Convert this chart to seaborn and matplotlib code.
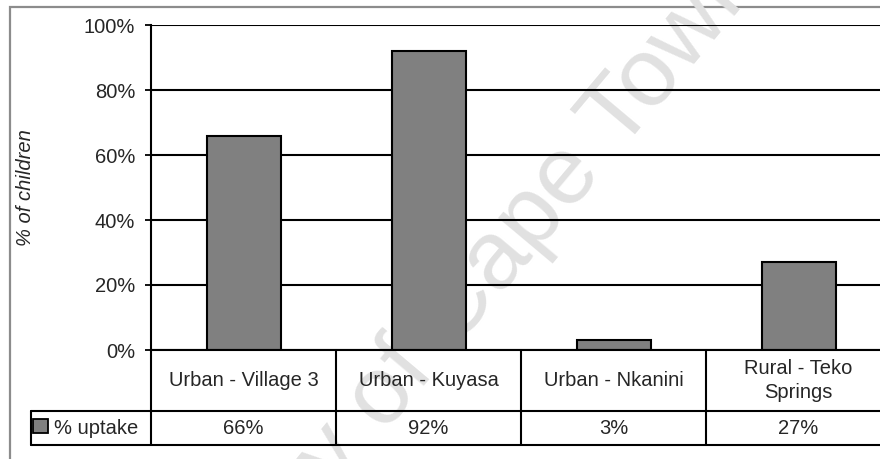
import matplotlib
matplotlib.use("Agg")
import matplotlib.pyplot as plt
import matplotlib.transforms as mtransforms
from matplotlib.patches import Rectangle
from matplotlib.ticker import PercentFormatter
import pandas as pd
import seaborn as sns

# data
categories = ["Urban - Village 3", "Urban - Kuyasa", "Urban - Nkanini", "Rural - Teko\nSprings"]
uptake = [66, 92, 3, 27]
series_name = "% uptake"
y_ticks = [0, 20, 40, 60, 80, 100]

df = pd.DataFrame({"Site": categories, "Uptake": uptake})

sns.set_style("white")
plt.rcParams["font.family"] = ["Liberation Sans", "DejaVu Sans"]
FS = 14.5

fig = plt.figure(figsize=(8.8, 4.59), dpi=100)
W, H = 880, 459

# outer chart frame (right and bottom are cut off in the reference)
fig.patches.append(Rectangle((10 / W, -0.1), 1.2, 1 - 7 / H + 0.1, transform=fig.transFigure,
                             fill=False, edgecolor="#8c8c8c", linewidth=1.6, zorder=-2))

# watermark, behind everything
fig.text(410 / W, 1 - 364 / H, "University of Cape Town", fontsize=70, color="#e1e1e1",
         rotation=50, ha="center", va="center", rotation_mode="anchor", zorder=-1)

ax = fig.add_axes([151 / W, 1 - 350 / H, 740 / W, 325 / H])
ax.patch.set_alpha(0)

sns.barplot(data=df, x="Site", y="Uptake", ax=ax, color="#808080", width=0.4,
            edgecolor="black", linewidth=1.5, saturation=1)

ax.set_xlim(-0.5, len(categories) - 0.5)
ax.set_ylim(0, 100)
ax.set_yticks(y_ticks)
ax.yaxis.set_major_formatter(PercentFormatter(100, decimals=0))
ax.set_axisbelow(True)
ax.yaxis.grid(True, color="black", linewidth=1.5)
ax.tick_params(axis="y", left=True, length=4.5, width=1.3, color="black", pad=7, labelsize=FS)
ax.set_xticks([])
ax.set_xlabel("")
ax.set_ylabel("% of children", fontsize=FS, style="italic")
ax.yaxis.set_label_coords(-0.157, 0.5)

for side in ["top", "right"]:
    ax.spines[side].set_visible(False)
for side in ["left", "bottom"]:
    ax.spines[side].set_color("black")
    ax.spines[side].set_linewidth(1.5)

# data table under the axis
row1 = -61 / 325
row2 = -95 / 325
leg_left = (31 - 151) / 740
lk = dict(color="black", linewidth=1.5, clip_on=False)
blend = mtransforms.blended_transform_factory(ax.transData, ax.transAxes)

ax.plot([leg_left, 1.2], [row1, row1], transform=ax.transAxes, **lk)
ax.plot([leg_left, 1.2], [row2, row2], transform=ax.transAxes, **lk)
ax.plot([leg_left, leg_left], [row1, row2], transform=ax.transAxes, **lk)
for i in range(len(categories)):
    ax.plot([i - 0.5, i - 0.5], [0, row2], transform=blend, **lk)

for i, (cat, val) in enumerate(zip(categories, uptake)):
    ax.text(i, row1 / 2, cat, transform=blend, ha="center", va="center", fontsize=FS,
            linespacing=1.4)
    ax.text(i, (row1 + row2) / 2, f"{val}%", transform=blend, ha="center", va="center",
            fontsize=FS)

ax.add_patch(Rectangle(((33 - 151) / 740, -83 / 325), 15 / 740, 14 / 325, transform=ax.transAxes,
                       facecolor="#808080", edgecolor="black", linewidth=1.3, clip_on=False))
ax.text((54 - 151) / 740, (row1 + row2) / 2, series_name, transform=ax.transAxes,
        ha="left", va="center", fontsize=FS)

fig.savefig("out.png", dpi=100)
